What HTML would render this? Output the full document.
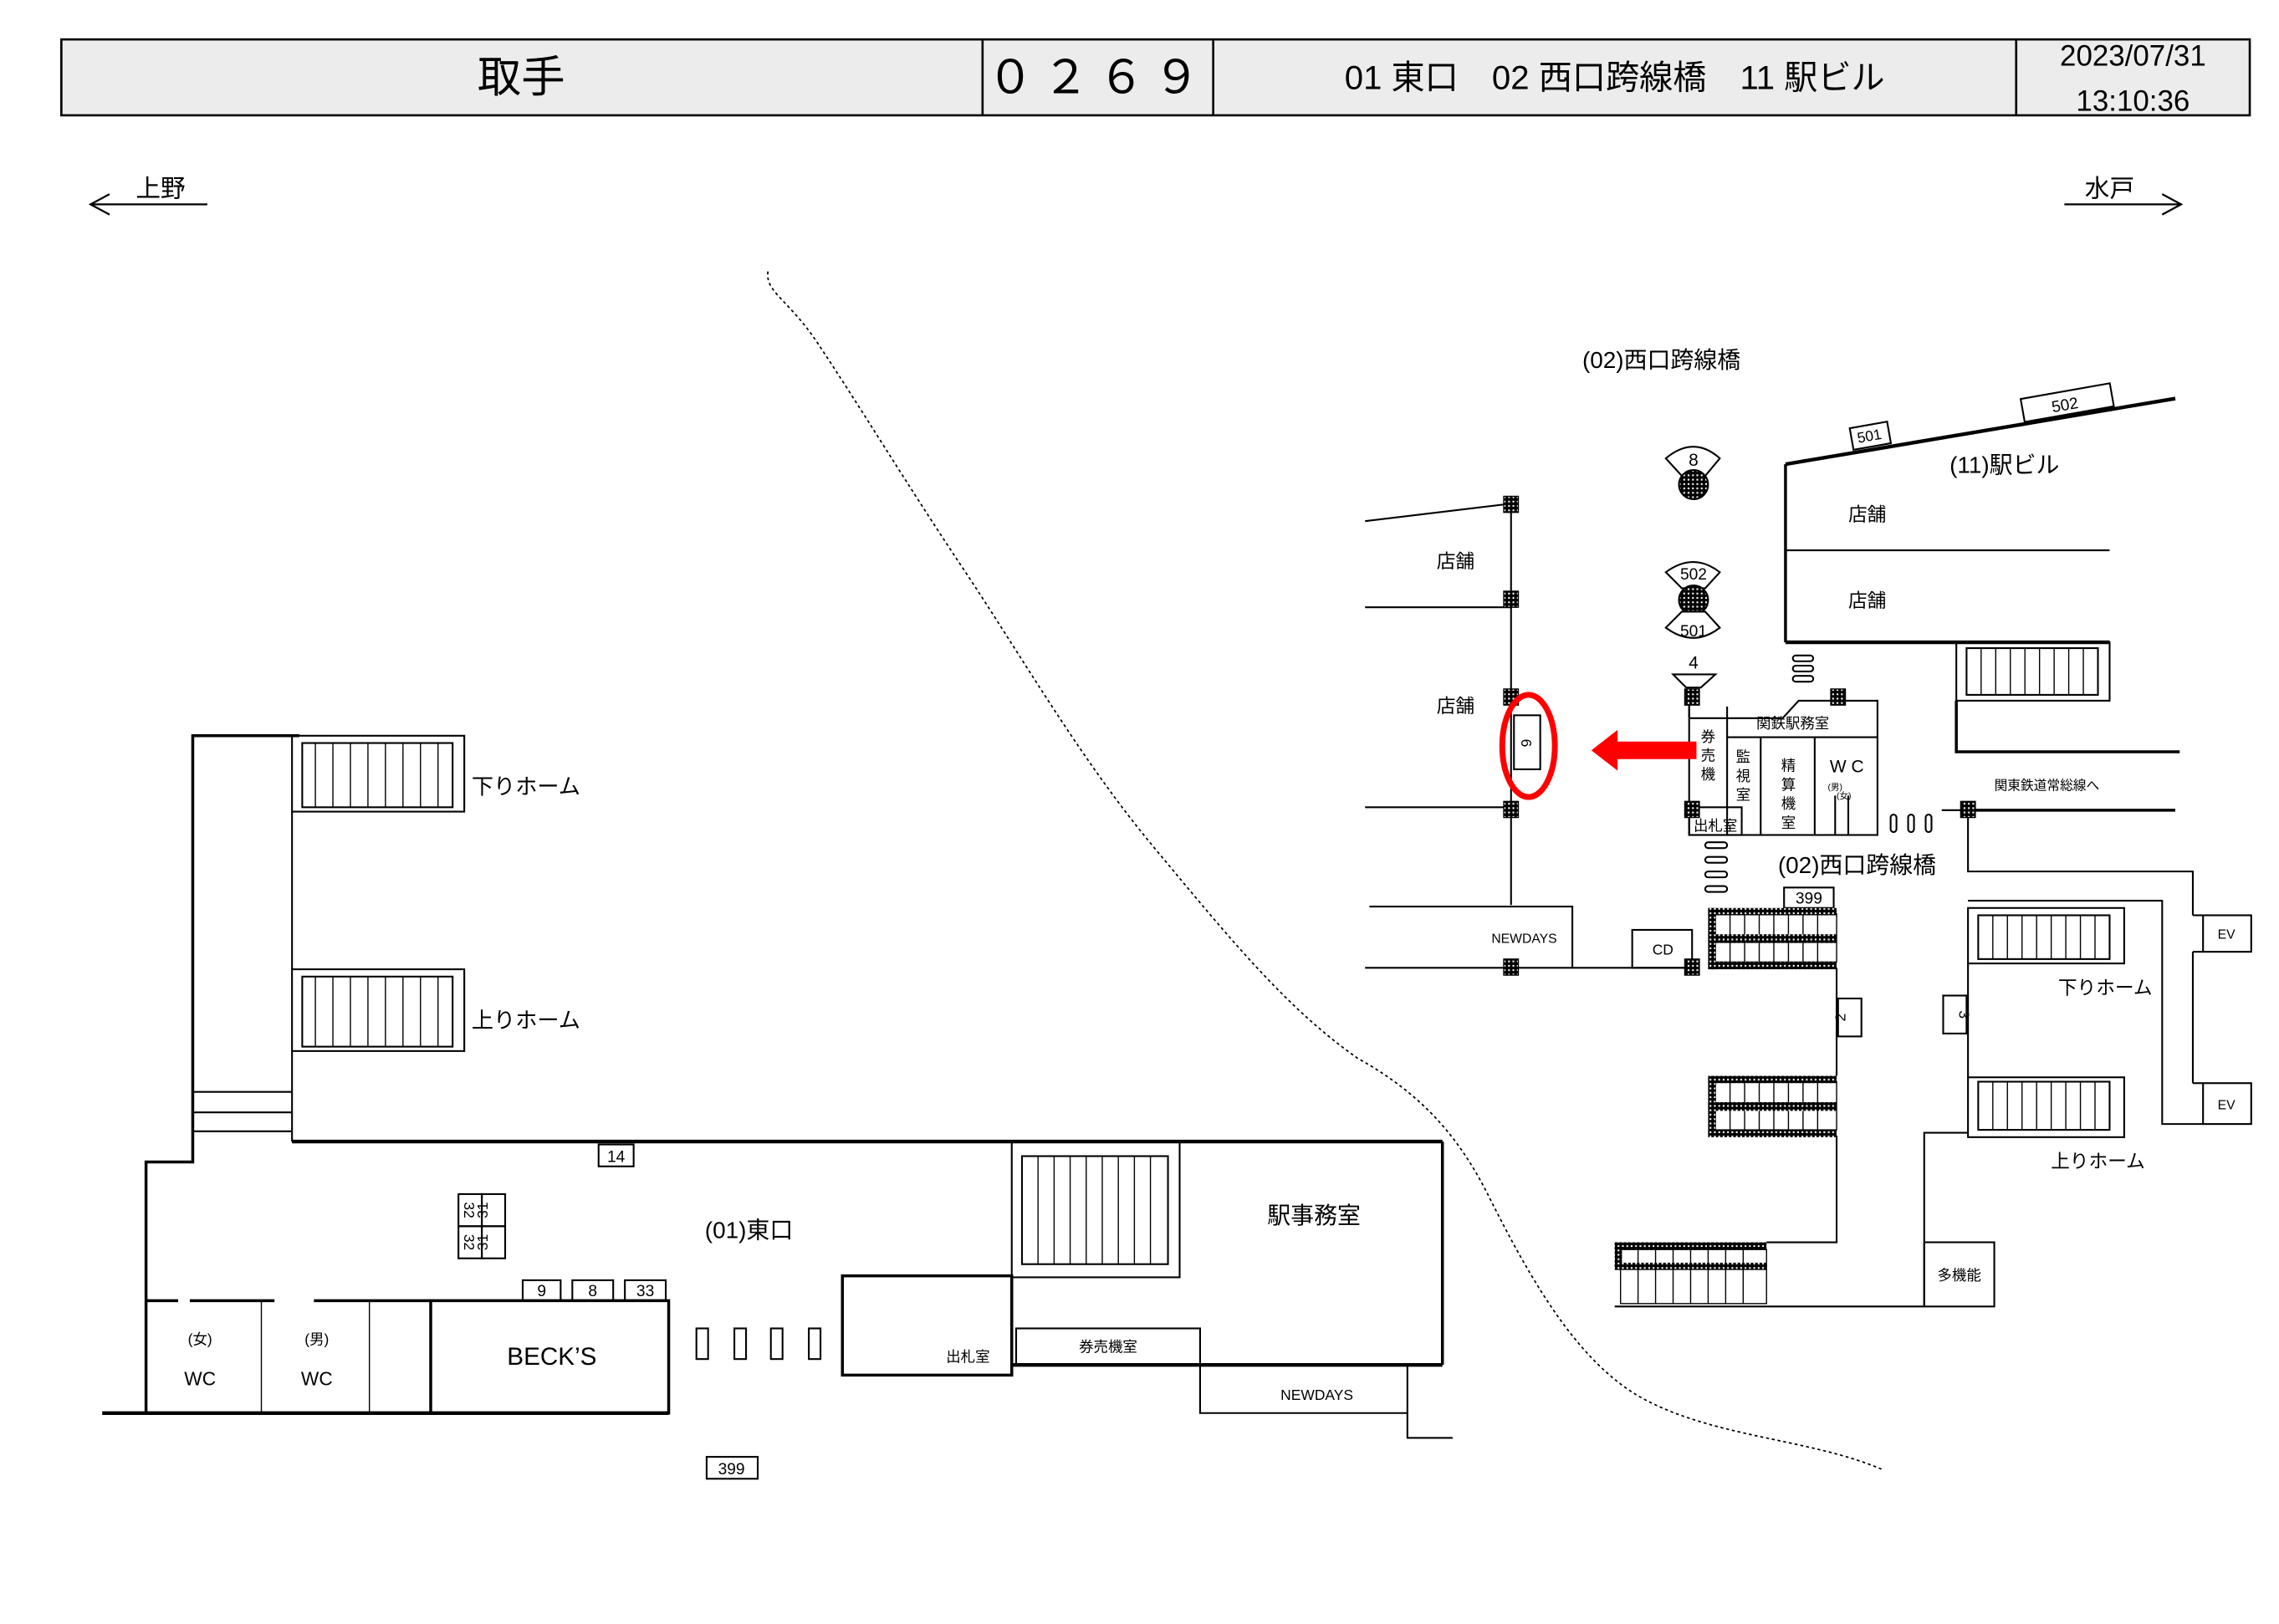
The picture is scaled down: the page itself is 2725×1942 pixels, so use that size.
<!DOCTYPE html>
<html><head><meta charset="utf-8"><style>
html,body{margin:0;padding:0;background:#fff;}
svg{display:block;}
text{font-family:"Liberation Sans","Noto Sans CJK JP",sans-serif;fill:#000;}
</style></head><body>
<svg width="2725" height="1942" viewBox="0 0 1561 1112.5" xmlns="http://www.w3.org/2000/svg">
<defs>
<pattern id="dots" width="3" height="3" patternUnits="userSpaceOnUse"><rect width="3" height="3" fill="#000"/><rect x="1" y="1" width="1.2" height="1.2" fill="#fff"/></pattern>
</defs>
<rect width="1561" height="1112.5" fill="#fff"/>
<!-- header -->
<rect x="42" y="27" width="1499" height="52" fill="#ececec" stroke="#000" stroke-width="1.5"/>
<line x1="673" y1="27" x2="673" y2="79" stroke="#000" stroke-width="1.5"/>
<line x1="831" y1="27" x2="831" y2="79" stroke="#000" stroke-width="1.5"/>
<line x1="1381" y1="27" x2="1381" y2="79" stroke="#000" stroke-width="1.5"/>
<text x="357" y="63" font-size="30" text-anchor="middle">取手</text>
<text x="752" y="64" font-size="32" text-anchor="middle" letter-spacing="6">０２６９</text>
<text x="1106" y="61" font-size="23" text-anchor="middle">01 東口　02 西口跨線橋　11 駅ビル</text>
<text x="1461" y="45" font-size="20" text-anchor="middle">2023/07/31</text>
<text x="1461" y="76" font-size="20" text-anchor="middle">13:10:36</text>
<!-- direction arrows -->
<g stroke="#000" stroke-width="1.3" fill="none">
<line x1="62" y1="140" x2="142" y2="140"/><polyline points="75,133 62,140 75,147"/>
<line x1="1414" y1="140" x2="1494" y2="140"/><polyline points="1481,133 1494,140 1481,147"/>
</g>
<text x="110" y="135" font-size="17" text-anchor="middle">上野</text>
<text x="1445" y="135" font-size="17" text-anchor="middle">水戸</text>
<!-- dotted curve -->
<path d="M526,186 C524,200 540,205 560,235 C590,280 620,330 660,390 C700,450 740,520 790,580 C840,640 880,690 930,725 C975,750 1000,780 1020,820 C1050,880 1080,930 1120,955 C1170,985 1240,985 1290,1007" fill="none" stroke="#000" stroke-width="1" stroke-dasharray="2,2"/>

<!-- LEFT / EAST EXIT -->
<g stroke="#000" fill="none" stroke-width="1.2">
<polyline points="205,504 132,504 132,796 100,796 100,968" stroke-width="2"/>
<line x1="70" y1="968" x2="458" y2="968" stroke-width="2.5"/>
<line x1="200" y1="556" x2="200" y2="664"/>
<line x1="200" y1="720" x2="200" y2="782"/>
<line x1="132" y1="748" x2="200" y2="748"/><line x1="132" y1="762" x2="200" y2="762"/><line x1="132" y1="775" x2="200" y2="775"/>
<line x1="200" y1="782" x2="988" y2="782" stroke-width="2.5"/>
<rect x="200" y="504" width="118" height="52"/>
<rect x="207" y="509" width="103" height="44"/>
<rect x="200" y="664" width="118" height="56"/>
<rect x="207" y="669" width="103" height="48"/>
<line x1="988" y1="782" x2="988" y2="935" stroke-width="2"/>
<line x1="693" y1="935" x2="988" y2="935" stroke-width="2.5"/>
<rect x="693" y="782" width="115" height="93"/>
<rect x="700" y="792" width="100" height="74"/>
<rect x="577" y="874" width="116" height="68" stroke-width="2"/>
<rect x="696" y="910" width="126" height="25"/>
<polyline points="822,935 822,968 964,968 964,985 995,985"/>
<line x1="964" y1="935" x2="964" y2="968"/>
<rect x="295" y="891" width="163" height="77" stroke-width="2"/>
<line x1="100" y1="891" x2="122" y2="891" stroke-width="2"/>
<line x1="130" y1="891" x2="188" y2="891" stroke-width="2"/>
<line x1="215" y1="891" x2="295" y2="891" stroke-width="2"/>
<line x1="179" y1="891" x2="179" y2="968" stroke-width="0.8"/>
<line x1="253" y1="891" x2="253" y2="968" stroke-width="0.8"/>
<rect x="358" y="877" width="26" height="14"/><rect x="392" y="877" width="28" height="14"/><rect x="428" y="877" width="28" height="14"/>
<rect x="410" y="784" width="24" height="15"/>
<rect x="314" y="818" width="16" height="22"/><rect x="330" y="818" width="16" height="22"/>
<rect x="314" y="840" width="16" height="22"/><rect x="330" y="840" width="16" height="22"/>
<rect x="477" y="910" width="8" height="21"/><rect x="503" y="910" width="8" height="21"/><rect x="528" y="910" width="8" height="21"/><rect x="554" y="910" width="8" height="21"/>
<rect x="484" y="998" width="35" height="15"/>
</g>
<g stroke="#000" stroke-width="0.8">
<line x1="216" y1="509" x2="216" y2="553"/><line x1="228" y1="509" x2="228" y2="553"/><line x1="240" y1="509" x2="240" y2="553"/><line x1="252" y1="509" x2="252" y2="553"/><line x1="264" y1="509" x2="264" y2="553"/><line x1="276" y1="509" x2="276" y2="553"/><line x1="288" y1="509" x2="288" y2="553"/><line x1="300" y1="509" x2="300" y2="553"/>
<line x1="216" y1="669" x2="216" y2="717"/><line x1="228" y1="669" x2="228" y2="717"/><line x1="240" y1="669" x2="240" y2="717"/><line x1="252" y1="669" x2="252" y2="717"/><line x1="264" y1="669" x2="264" y2="717"/><line x1="276" y1="669" x2="276" y2="717"/><line x1="288" y1="669" x2="288" y2="717"/><line x1="300" y1="669" x2="300" y2="717"/>
<line x1="711" y1="792" x2="711" y2="866"/><line x1="722" y1="792" x2="722" y2="866"/><line x1="733" y1="792" x2="733" y2="866"/><line x1="744" y1="792" x2="744" y2="866"/><line x1="755" y1="792" x2="755" y2="866"/><line x1="766" y1="792" x2="766" y2="866"/><line x1="777" y1="792" x2="777" y2="866"/><line x1="788" y1="792" x2="788" y2="866"/>
</g>
<text x="323" y="544" font-size="15">下りホーム</text>
<text x="323" y="704" font-size="15">上りホーム</text>
<text x="900" y="838" font-size="16" text-anchor="middle">駅事務室</text>
<text x="513" y="848" font-size="16" text-anchor="middle">(01)東口</text>
<text x="663" y="933" font-size="10" text-anchor="middle">出札室</text>
<text x="759" y="926" font-size="10" text-anchor="middle">券売機室</text>
<text x="902" y="959" font-size="10" text-anchor="middle">NEWDAYS</text>
<text x="378" y="935" font-size="17" text-anchor="middle">BECK’S</text>
<text x="137" y="921" font-size="10" text-anchor="middle">(女)</text>
<text x="137" y="949" font-size="13" text-anchor="middle">WC</text>
<text x="217" y="921" font-size="10" text-anchor="middle">(男)</text>
<text x="217" y="949" font-size="13" text-anchor="middle">WC</text>
<text x="371" y="888" font-size="11" text-anchor="middle">9</text>
<text x="406" y="888" font-size="11" text-anchor="middle">8</text>
<text x="442" y="888" font-size="11" text-anchor="middle">33</text>
<text x="422" y="796" font-size="11" text-anchor="middle">14</text>
<text x="501" y="1010" font-size="11" text-anchor="middle">399</text>
<text font-size="10" text-anchor="middle" transform="translate(318,829) rotate(90)">32</text>
<text font-size="10" text-anchor="middle" transform="translate(334,829) rotate(-90)">31</text>
<text font-size="10" text-anchor="middle" transform="translate(318,851) rotate(90)">32</text>
<text font-size="10" text-anchor="middle" transform="translate(334,851) rotate(-90)">31</text>

<!-- RIGHT / WEST -->
<g stroke="#000" fill="none" stroke-width="1.2">
<line x1="1035" y1="345" x2="1035" y2="620"/>
<line x1="935" y1="357" x2="1035" y2="345"/>
<line x1="935" y1="416" x2="1035" y2="416"/>
<line x1="935" y1="553" x2="1035" y2="553"/>
<polyline points="938,621 1077,621 1077,663"/>
<line x1="935" y1="663" x2="1159" y2="663"/>
<rect x="1118" y="637" width="41" height="26"/>
<rect x="1037" y="490" width="18" height="37"/>
<rect x="1157" y="480" width="129" height="92"/>
<line x1="1183" y1="505" x2="1286" y2="505"/>
<line x1="1183" y1="484" x2="1183" y2="572"/>
<line x1="1206" y1="505" x2="1206" y2="572"/>
<line x1="1243" y1="505" x2="1243" y2="572"/>
<line x1="1257" y1="545" x2="1257" y2="572"/><line x1="1266" y1="545" x2="1266" y2="572"/>
<rect x="1157" y="553" width="36" height="19"/>
<rect x="1295" y="558" width="4" height="12" rx="2"/><rect x="1307" y="558" width="4" height="12" rx="2"/><rect x="1319" y="558" width="4" height="12" rx="2"/>
<line x1="1330" y1="555" x2="1348" y2="555"/>
<line x1="1348" y1="555" x2="1490" y2="555" stroke-width="2"/>
<polyline points="1348,555 1348,597 1502,597 1502,627"/>
<rect x="1509" y="627" width="33" height="25"/>
<line x1="1502" y1="627" x2="1509" y2="627"/><line x1="1502" y1="652" x2="1509" y2="652"/>
<line x1="1502" y1="652" x2="1502" y2="742"/>
<rect x="1509" y="742" width="33" height="28"/>
<line x1="1502" y1="742" x2="1509" y2="742"/>
<polyline points="1348,617 1481,617 1481,770 1509,770"/>
<rect x="1348" y="622" width="107" height="38"/>
<rect x="1355" y="627" width="90" height="30"/>
<line x1="1348" y1="660" x2="1348" y2="738"/>
<rect x="1331" y="682" width="16" height="26"/>
<rect x="1348" y="738" width="107" height="41"/>
<rect x="1355" y="741" width="90" height="33"/>
<polyline points="1348,776 1318,776 1318,895 1106,895"/>
<rect x="1318" y="851" width="48" height="44"/>
<line x1="1258" y1="663" x2="1258" y2="737"/>
<rect x="1259" y="684" width="16" height="26"/>
<polyline points="1258,778 1258,851 1210,851"/>
<rect x="1222" y="608" width="34" height="14"/>
<rect x="1168" y="577" width="15" height="4" rx="2"/><rect x="1168" y="587" width="15" height="4" rx="2"/><rect x="1168" y="597" width="15" height="4" rx="2"/><rect x="1168" y="607" width="15" height="4" rx="2"/>
<rect x="1228" y="449" width="14" height="4" rx="2"/><rect x="1228" y="456" width="14" height="4" rx="2"/><rect x="1228" y="463" width="14" height="4" rx="2"/>
<line x1="1223" y1="318" x2="1490" y2="273" stroke-width="2.5"/>
<line x1="1223" y1="318" x2="1223" y2="440" stroke-width="2"/>
<line x1="1223" y1="377" x2="1445" y2="377"/>
<line x1="1223" y1="440" x2="1445" y2="440" stroke-width="2.5"/>
<rect x="1340" y="440" width="105" height="40"/>
<rect x="1347" y="444" width="90" height="32"/>
<polyline points="1340,480 1340,515 1493,515" stroke-width="2"/>
<rect x="1268" y="291" width="26" height="15" transform="rotate(-10 1281 298)"/>
<rect x="1385" y="268" width="62" height="16" transform="rotate(-10 1415 276)"/>
</g>
<!-- white cover for angled top of center block -->
<rect x="1158" y="478" width="127" height="3" fill="#fff"/>
<polyline points="1157,492 1221,492 1232,480 1286,480" fill="none" stroke="#000" stroke-width="1.2"/>
<line x1="1157" y1="480" x2="1157" y2="492" stroke="#000" stroke-width="1.2"/>
<!-- stair inner lines right -->
<g stroke="#000" stroke-width="0.8">
<line x1="1365" y1="627" x2="1365" y2="657"/><line x1="1375" y1="627" x2="1375" y2="657"/><line x1="1385" y1="627" x2="1385" y2="657"/><line x1="1395" y1="627" x2="1395" y2="657"/><line x1="1405" y1="627" x2="1405" y2="657"/><line x1="1415" y1="627" x2="1415" y2="657"/><line x1="1425" y1="627" x2="1425" y2="657"/><line x1="1435" y1="627" x2="1435" y2="657"/>
<line x1="1365" y1="741" x2="1365" y2="774"/><line x1="1375" y1="741" x2="1375" y2="774"/><line x1="1385" y1="741" x2="1385" y2="774"/><line x1="1395" y1="741" x2="1395" y2="774"/><line x1="1405" y1="741" x2="1405" y2="774"/><line x1="1415" y1="741" x2="1415" y2="774"/><line x1="1425" y1="741" x2="1425" y2="774"/><line x1="1435" y1="741" x2="1435" y2="774"/>
<line x1="1357" y1="444" x2="1357" y2="476"/><line x1="1367" y1="444" x2="1367" y2="476"/><line x1="1377" y1="444" x2="1377" y2="476"/><line x1="1387" y1="444" x2="1387" y2="476"/><line x1="1397" y1="444" x2="1397" y2="476"/><line x1="1407" y1="444" x2="1407" y2="476"/><line x1="1417" y1="444" x2="1417" y2="476"/><line x1="1427" y1="444" x2="1427" y2="476"/>
</g>
<!-- dotted stairs -->
<g>
<g stroke="#000" fill="none" stroke-width="0.8">
<rect x="1175" y="626" width="83" height="33"/>
<rect x="1175" y="741" width="83" height="33"/>
<rect x="1110" y="856" width="100" height="37"/>
</g>
<g stroke="#000" stroke-width="0.8">
<path d="M1185,626V659M1195,626V659M1205,626V659M1215,626V659M1225,626V659M1235,626V659M1245,626V659M1185,741V774M1195,741V774M1205,741V774M1215,741V774M1225,741V774M1235,741V774M1245,741V774M1122,856V893M1134,856V893M1146,856V893M1158,856V893M1170,856V893M1182,856V893M1194,856V893"/>
</g>
<g fill="url(#dots)">
<rect x="1170" y="622" width="88" height="5"/><rect x="1170" y="640" width="88" height="6"/><rect x="1170" y="659" width="88" height="5"/><rect x="1170" y="622" width="5" height="42"/>
<rect x="1170" y="737" width="88" height="5"/><rect x="1170" y="755" width="88" height="6"/><rect x="1170" y="774" width="88" height="5"/><rect x="1170" y="737" width="5" height="42"/>
<rect x="1106" y="851" width="104" height="5"/><rect x="1106" y="865" width="104" height="5"/><rect x="1106" y="851" width="5" height="18"/>
</g>
</g>
<!-- small squares -->
<g fill="url(#dots)" stroke="#000" stroke-width="0.8">
<rect x="1030" y="340" width="10" height="11"/><rect x="1030" y="405" width="10" height="11"/><rect x="1030" y="472" width="10" height="11"/><rect x="1030" y="549" width="10" height="11"/><rect x="1030" y="657" width="10" height="11"/>
<rect x="1154" y="472" width="10" height="11"/><rect x="1154" y="549" width="10" height="11"/><rect x="1154" y="657" width="10" height="11"/>
<rect x="1254" y="472" width="10" height="11"/><rect x="1343" y="549" width="10" height="11"/>
</g>
<!-- icons 8, 502/501, 4 -->
<g stroke="#000" stroke-width="1.2">
<path d="M1141,314 Q1160,298 1178,314 L1168,326 L1152,326 Z" fill="#fff"/>
<circle cx="1160" cy="332" r="10" fill="url(#dots)"/>
<path d="M1141,392 Q1160,378 1178,392 L1168,403 L1152,403 Z" fill="#fff"/>
<circle cx="1160" cy="411" r="10" fill="url(#dots)"/>
<path d="M1141,430 Q1160,444 1178,430 L1168,419 L1152,419 Z" fill="#fff"/>
<path d="M1146,462 L1175,462 L1165,471 L1155,471 Z" fill="#fff"/>
</g>
<text x="1160" y="319" font-size="12" text-anchor="middle">8</text>
<text x="1160" y="397" font-size="11" text-anchor="middle">502</text>
<text x="1160" y="436" font-size="11" text-anchor="middle">501</text>
<text x="1160" y="458" font-size="12" text-anchor="middle">4</text>
<!-- red marker -->
<ellipse cx="1047" cy="511" rx="18" ry="35" fill="none" stroke="#f00" stroke-width="4"/>
<polygon points="1090,514 1108,500 1108,508 1162,508 1162,520 1108,520 1108,528" fill="#f00"/>
<!-- right texts -->
<text x="1138" y="252" font-size="16" text-anchor="middle">(02)西口跨線橋</text>
<text x="1373" y="324" font-size="16" text-anchor="middle">(11)駅ビル</text>
<text x="1279" y="357" font-size="13" text-anchor="middle">店舗</text>
<text x="1279" y="416" font-size="13" text-anchor="middle">店舗</text>
<text x="997" y="389" font-size="13" text-anchor="middle">店舗</text>
<text x="997" y="488" font-size="13" text-anchor="middle">店舗</text>
<text x="1044" y="646" font-size="9" text-anchor="middle">NEWDAYS</text>
<text x="1139" y="654" font-size="10" text-anchor="middle">CD</text>
<text font-size="10" text-anchor="middle" transform="translate(1042,509) rotate(90)">6</text>
<text x="1228" y="499" font-size="10" text-anchor="middle">関鉄駅務室</text>
<text x="1170" y="508" font-size="10" text-anchor="middle">券</text>
<text x="1170" y="521" font-size="10" text-anchor="middle">売</text>
<text x="1170" y="534" font-size="10" text-anchor="middle">機</text>
<text x="1194" y="522" font-size="10" text-anchor="middle">監</text>
<text x="1194" y="535" font-size="10" text-anchor="middle">視</text>
<text x="1194" y="548" font-size="10" text-anchor="middle">室</text>
<text x="1225" y="528" font-size="10" text-anchor="middle">精</text>
<text x="1225" y="541" font-size="10" text-anchor="middle">算</text>
<text x="1225" y="554" font-size="10" text-anchor="middle">機</text>
<text x="1225" y="567" font-size="10" text-anchor="middle">室</text>
<text x="1265" y="529" font-size="12" text-anchor="middle">W C</text>
<text x="1252" y="541" font-size="6">(男)</text>
<text x="1258" y="547" font-size="6">(女)</text>
<text x="1175" y="569" font-size="10" text-anchor="middle">出札室</text>
<text x="1402" y="541" font-size="9" text-anchor="middle">関東鉄道常総線へ</text>
<text x="1272" y="598" font-size="16" text-anchor="middle">(02)西口跨線橋</text>
<text x="1239" y="619" font-size="11" text-anchor="middle">399</text>
<text font-size="10" text-anchor="middle" transform="translate(1264,697) rotate(-90)">2</text>
<text font-size="10" text-anchor="middle" transform="translate(1342,695) rotate(90)">3</text>
<text x="1442" y="681" font-size="13" text-anchor="middle">下りホーム</text>
<text x="1437" y="800" font-size="13" text-anchor="middle">上りホーム</text>
<text x="1525" y="643" font-size="9" text-anchor="middle">EV</text>
<text x="1525" y="760" font-size="9" text-anchor="middle">EV</text>
<text x="1342" y="877" font-size="10" text-anchor="middle">多機能</text>
<text font-size="10" text-anchor="middle" transform="translate(1281,302) rotate(-10)">501</text>
<text font-size="11" text-anchor="middle" transform="translate(1415,281) rotate(-10)">502</text>
</svg>
</body></html>
